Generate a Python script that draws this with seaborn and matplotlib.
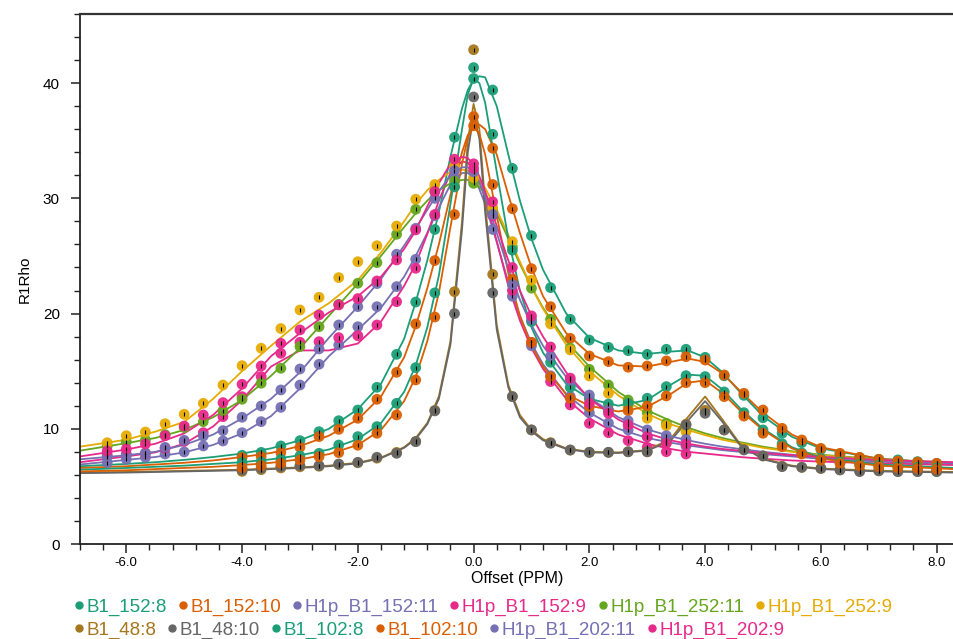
import numpy as np
import pandas as pd
import matplotlib
matplotlib.use("Agg")
import matplotlib.pyplot as plt
import seaborn as sns
from matplotlib.ticker import MultipleLocator, FormatStrFormatter
from matplotlib.lines import Line2D

# ---------------- data ----------------
series_labels = ["B1_152:8", "B1_152:10", "H1p_B1_152:11", "H1p_B1_152:9",
                 "H1p_B1_252:11", "H1p_B1_252:9", "B1_48:8", "B1_48:10",
                 "B1_102:8", "B1_102:10", "H1p_B1_202:11", "H1p_B1_202:9"]

series_colors = ["#1b9e77", "#d95f02", "#7570b3", "#e7298a", "#66a61e", "#e6ab02",
                 "#a6761d", "#666666", "#1b9e77", "#d95f02", "#7570b3", "#e7298a"]

# measured offsets (ppm)
h1p_offsets = [-6.33, -6.0, -5.67, -5.33, -5.0, -4.67, -4.33, -4.0, -3.67, -3.33,
               -3.0, -2.67, -2.33, -2.0, -1.67, -1.33, -1.0, -0.67, -0.33, 0.0,
               0.33, 0.67, 1.0, 1.33, 1.67, 2.0, 2.33, 2.67, 3.0, 3.33, 3.67]
b1_offsets = [-4.0, -3.67, -3.33, -3.0, -2.67, -2.33, -2.0, -1.67, -1.33, -1.0,
              -0.67, -0.33, 0.0, 0.33, 0.67, 1.0, 1.33, 1.67, 2.0, 2.33,
              2.67, 3.0, 3.33, 3.67, 4.0, 4.33, 4.67, 5.0, 5.33, 5.67,
              6.0, 6.33, 6.67, 7.0, 7.33, 7.67, 8.0]

# measured R1rho values
b1_152_8 = [7.7, 7.95, 8.51, 8.97, 9.75, 10.7, 11.63, 13.6, 16.46, 21.0,
            27.3, 35.3, 40.4, 39.4, 32.6, 26.76, 22.25, 19.5, 17.7, 17.07,
            16.78, 16.46, 16.9, 16.9, 16.2, 14.6, 12.9, 10.96, 9.61, 8.8,
            8.2, 7.8, 7.5, 7.35, 7.3, 7.15, 7.0]
b1_152_10 = [7.5, 7.58, 7.93, 8.39, 9.32, 9.95, 10.91, 12.56, 14.9, 19.1,
             24.6, 31.0, 36.3, 34.35, 29.1, 23.9, 20.6, 17.85, 16.32, 15.83,
             15.34, 15.45, 15.89, 16.26, 15.97, 14.67, 13.08, 11.63, 10.04, 9.03,
             8.3, 7.87, 7.52, 7.35, 7.2, 7.1, 7.0]
h1p_152_11 = [7.06, 7.35, 7.52, 7.81, 7.99, 8.51, 8.94, 9.66, 10.62, 11.86,
              13.8, 15.6, 17.27, 18.86, 20.6, 22.34, 24.71, 28.5, 31.8, 31.6,
              27.3, 21.5, 17.2, 14.6, 12.8, 11.4, 10.5, 9.9, 9.3, 8.9, 8.5]
h1p_152_9 = [7.73, 7.81, 7.87, 8.3, 8.9, 9.66, 11.05, 12.79, 14.53, 16.55,
             17.51, 17.56, 17.91, 18.08, 19.01, 21.03, 23.93, 28.6, 32.8, 33.0,
             28.5, 22.0, 17.5, 14.1, 12.07, 10.47, 9.66, 8.97, 8.39, 8.01, 7.81]
h1p_252_11 = [8.5, 8.88, 9.03, 9.49, 10.1, 10.62, 11.57, 12.56, 13.95, 15.25,
              17.13, 18.86, 20.8, 22.63, 24.42, 26.88, 29.05, 30.6, 31.5, 31.3,
              29.0, 25.8, 22.2, 19.5, 17.0, 15.16, 13.8, 12.5, 11.4, 10.47, 9.9]
h1p_252_9 = [8.79, 9.4, 9.72, 10.44, 11.26, 12.21, 13.8, 15.48, 16.99, 18.7,
             20.31, 21.41, 23.12, 24.5, 25.89, 27.6, 29.92, 31.2, 32.8, 31.8,
             29.2, 26.24, 22.9, 19.1, 16.84, 14.58, 13.08, 11.9, 10.91, 10.27, 9.75]
b1_48_8 = [6.3, 6.45, 6.6, 6.7, 6.75, 6.9, 7.05, 7.45, 7.95, 8.9,
           11.6, 21.9, 42.9, 23.4, 12.8, 9.9, 8.8, 8.15, 7.95, 7.95,
           8.0, 8.0, 8.8, 10.4, 11.6, 9.9, 8.2, 7.65, 6.75, 6.65,
           6.55, 6.45, 6.35, 6.35, 6.3, 6.3, 6.3]
b1_48_10 = [6.42, 6.57, 6.71, 6.8, 6.8, 6.94, 7.09, 7.53, 7.87, 8.88,
            11.55, 20.0, 38.8, 21.8, 12.79, 9.9, 8.74, 8.16, 7.96, 7.96,
            8.01, 8.01, 9.0, 10.33, 11.34, 9.9, 8.16, 7.64, 6.71, 6.66,
            6.57, 6.42, 6.28, 6.36, 6.28, 6.28, 6.28]
b1_102_8 = [7.06, 7.1, 7.35, 7.64, 7.87, 8.59, 9.32, 10.19, 12.21, 15.31,
            21.8, 31.0, 41.35, 35.56, 25.5, 19.3, 15.77, 13.6, 12.6, 12.15,
            12.2, 12.65, 13.66, 14.61, 14.53, 13.2, 11.4, 9.9, 8.7, 7.9,
            7.4, 7.1, 6.9, 6.8, 6.7, 6.65, 6.6]
b1_102_10 = [6.62, 6.8, 7.0, 7.29, 7.58, 7.93, 8.57, 9.61, 11.2, 14.24,
             19.7, 28.6, 37.1, 31.2, 23.0, 17.5, 14.53, 12.65, 11.92, 11.63,
             11.57, 11.98, 12.85, 14.0, 14.0, 12.79, 11.1, 9.61, 8.45, 7.81,
             7.3, 7.0, 6.8, 6.7, 6.6, 6.55, 6.5]
h1p_202_11 = [7.58, 7.72, 7.9, 8.39, 9.0, 9.37, 9.84, 11.0, 11.98, 13.37,
              15.19, 16.93, 19.01, 20.6, 22.6, 25.15, 27.4, 30.0, 32.4, 32.3,
              28.6, 22.5, 19.5, 16.3, 14.2, 12.93, 11.6, 10.7, 9.9, 9.4, 9.09]
h1p_202_9 = [8.07, 8.25, 8.68, 9.4, 10.24, 11.2, 12.27, 13.86, 15.45, 17.42,
             18.58, 19.88, 20.75, 21.3, 22.83, 24.65, 27.26, 30.6, 33.4, 32.6,
             29.7, 24.0, 19.8, 17.1, 14.4, 12.21, 11.34, 10.33, 9.32, 8.74, 8.65]

# fitted curves on a common offset grid
fit_offsets = [-6.8, -6.0, -5.5, -5.0, -4.5, -4.0, -3.5, -3.0, -2.5, -2.0,
               -1.6, -1.2, -1.0, -0.8, -0.6, -0.4, -0.2, -0.1, 0.0, 0.1,
               0.2, 0.4, 0.6, 0.8, 1.0, 1.2, 1.6, 2.0, 2.5, 3.0,
               3.4, 3.7, 4.0, 4.3, 4.6, 5.0, 5.5, 6.0, 7.0, 8.3]
fit_b1_152_8 = [6.75, 6.95, 7.1, 7.3, 7.55, 7.85, 8.3, 9.0, 10.0, 11.7,
                13.9, 17.8, 21.0, 24.6, 28.8, 33.6, 37.8, 39.4, 40.3, 40.6,
                40.5, 38.0, 33.8, 29.8, 26.5, 23.8, 20.0, 17.9, 16.8, 16.5,
                16.7, 16.8, 16.2, 14.9, 13.2, 11.1, 9.3, 8.3, 7.4, 6.95]
fit_b1_152_10 = [6.6, 6.75, 6.9, 7.05, 7.25, 7.55, 7.9, 8.5, 9.4, 10.8,
                 12.8, 16.2, 18.9, 22.2, 26.0, 30.3, 34.0, 35.5, 36.2, 36.4,
                 36.0, 33.8, 30.3, 27.0, 24.0, 21.5, 18.3, 16.5, 15.5, 15.4,
                 15.8, 16.1, 15.8, 14.8, 13.3, 11.4, 9.5, 8.4, 7.4, 6.95]
fit_h1p_152_11 = [6.9, 7.3, 7.55, 7.95, 8.6, 9.6, 11.1, 13.5, 16.3, 18.6,
                  20.5, 23.2, 25.0, 27.0, 29.2, 31.2, 32.2, 32.2, 31.8, 30.8,
                  29.5, 26.2, 22.7, 19.8, 17.4, 15.6, 13.0, 11.4, 10.0, 9.2,
                  8.8, 8.55, 8.35, 8.15, 8.0, 7.8, 7.6, 7.4, 7.15, 6.9]
fit_h1p_152_9 = [7.1, 7.6, 7.95, 8.7, 10.2, 12.5, 15.4, 16.8, 16.8, 17.4,
                 19.3, 22.4, 24.3, 26.9, 29.8, 32.2, 33.2, 33.1, 32.5, 31.4,
                 30.0, 26.3, 22.4, 19.4, 17.0, 15.2, 12.6, 10.9, 9.5, 8.7,
                 8.25, 8.0, 7.85, 7.7, 7.55, 7.4, 7.25, 7.15, 7.0, 6.85]
fit_h1p_252_11 = [8.1, 8.75, 9.2, 9.9, 11.0, 12.5, 14.6, 17.0, 19.8, 22.6,
                  25.0, 27.5, 28.7, 29.8, 30.7, 31.3, 31.6, 31.6, 31.4, 31.0,
                  30.4, 28.7, 26.5, 24.3, 22.3, 20.5, 17.6, 15.4, 13.2, 11.6,
                  10.7, 10.1, 9.6, 9.2, 8.85, 8.45, 8.05, 7.75, 7.35, 7.05]
fit_h1p_252_9 = [8.45, 9.05, 9.75, 10.6, 12.6, 15.0, 17.2, 19.3, 20.9, 22.9,
                 25.3, 28.0, 29.5, 30.7, 31.6, 32.3, 32.5, 32.4, 32.1, 31.6,
                 30.9, 29.0, 26.8, 24.5, 22.3, 20.4, 17.3, 15.0, 12.9, 11.3,
                 10.4, 9.9, 9.45, 9.05, 8.75, 8.35, 8.0, 7.7, 7.3, 7.0]
fit_b1_48_8 = [6.2, 6.25, 6.3, 6.35, 6.4, 6.45, 6.55, 6.65, 6.8, 7.05,
               7.5, 8.4, 9.2, 10.5, 12.8, 17.6, 28.0, 35.0, 38.2, 36.0,
               29.5, 19.0, 13.8, 11.2, 9.9, 9.1, 8.3, 8.0, 7.95, 8.15,
               9.1, 11.0, 12.8, 10.8, 8.7, 7.4, 6.8, 6.55, 6.35, 6.25]
fit_b1_48_10 = [6.15, 6.2, 6.25, 6.3, 6.35, 6.4, 6.5, 6.6, 6.75, 7.0,
                7.45, 8.35, 9.1, 10.4, 12.6, 17.3, 27.3, 34.0, 37.2, 35.2,
                28.8, 18.6, 13.6, 11.0, 9.8, 9.0, 8.25, 7.95, 7.9, 8.1,
                8.95, 10.7, 12.4, 10.6, 8.6, 7.35, 6.75, 6.5, 6.3, 6.2]
fit_b1_102_8 = [6.45, 6.6, 6.7, 6.8, 6.95, 7.1, 7.35, 7.7, 8.2, 9.1,
                10.5, 13.2, 15.5, 18.8, 23.3, 29.5, 36.0, 39.0, 40.4, 40.0,
                38.3, 32.3, 26.5, 22.0, 18.8, 16.6, 13.9, 12.6, 12.0, 12.5,
                13.8, 14.7, 14.6, 13.4, 11.8, 10.0, 8.4, 7.5, 6.9, 6.6]
fit_b1_102_10 = [6.3, 6.4, 6.5, 6.6, 6.7, 6.85, 7.05, 7.35, 7.8, 8.6,
                 9.9, 12.4, 14.5, 17.6, 21.8, 27.5, 33.0, 35.3, 36.2, 35.6,
                 33.8, 28.5, 23.5, 19.8, 17.2, 15.4, 13.0, 12.0, 11.5, 11.9,
                 13.0, 14.0, 14.2, 13.1, 11.6, 9.9, 8.3, 7.4, 6.8, 6.5]
fit_h1p_202_11 = [7.35, 7.7, 8.0, 8.6, 9.5, 10.9, 12.6, 14.9, 17.9, 20.6,
                  23.0, 25.9, 27.4, 29.0, 30.6, 32.0, 32.7, 32.7, 32.3, 31.4,
                  30.2, 27.0, 23.9, 21.2, 19.0, 17.2, 14.5, 12.7, 11.0, 9.95,
                  9.35, 9.0, 8.7, 8.45, 8.25, 8.0, 7.75, 7.55, 7.25, 7.0]
fit_h1p_202_9 = [7.6, 8.2, 8.7, 9.6, 11.2, 13.5, 16.3, 18.3, 20.1, 21.5,
                 23.2, 25.6, 27.2, 29.3, 31.3, 33.0, 33.6, 33.5, 32.9, 31.9,
                 30.6, 27.6, 24.6, 22.0, 19.8, 18.0, 14.9, 12.6, 10.8, 9.6,
                 9.0, 8.7, 8.45, 8.25, 8.1, 7.9, 7.7, 7.55, 7.3, 7.1]

y_ticks = [0, 10, 20, 30, 40]
x_ticks = [-6.0, -4.0, -2.0, 0.0, 2.0, 4.0, 6.0, 8.0]

# ---------------- assemble ----------------
point_sets = [(b1_offsets, b1_152_8), (b1_offsets, b1_152_10), (h1p_offsets, h1p_152_11),
              (h1p_offsets, h1p_152_9), (h1p_offsets, h1p_252_11), (h1p_offsets, h1p_252_9),
              (b1_offsets, b1_48_8), (b1_offsets, b1_48_10), (b1_offsets, b1_102_8),
              (b1_offsets, b1_102_10), (h1p_offsets, h1p_202_11), (h1p_offsets, h1p_202_9)]
fit_sets = [fit_b1_152_8, fit_b1_152_10, fit_h1p_152_11, fit_h1p_152_9, fit_h1p_252_11,
            fit_h1p_252_9, fit_b1_48_8, fit_b1_48_10, fit_b1_102_8, fit_b1_102_10,
            fit_h1p_202_11, fit_h1p_202_9]

pts = pd.concat([pd.DataFrame({"series": lab, "offset": xs, "r1rho": ys})
                 for lab, (xs, ys) in zip(series_labels, point_sets)], ignore_index=True)
fits = pd.concat([pd.DataFrame({"series": lab, "offset": fit_offsets, "r1rho": ys})
                  for lab, ys in zip(series_labels, fit_sets)], ignore_index=True)
palette = dict(zip(series_labels, series_colors))

# ---------------- draw ----------------
plt.rcParams["font.family"] = ["Liberation Sans", "DejaVu Sans"]
plt.rcParams["axes.unicode_minus"] = False

fig = plt.figure(figsize=(9.54, 6.39), dpi=100)
ax = fig.add_axes([80 / 954, 1 - 544 / 639, (954 - 80) / 954, (544 - 14) / 639])

sns.lineplot(data=fits, x="offset", y="r1rho", hue="series", hue_order=series_labels,
             palette=palette, estimator=None, sort=True, linewidth=1.3,
             legend=False, ax=ax, zorder=2)
sns.scatterplot(data=pts, x="offset", y="r1rho", hue="series", hue_order=series_labels,
                palette=palette, s=60, linewidth=0, alpha=0.95, legend=False,
                ax=ax, zorder=3)
ax.scatter(pts["offset"], pts["r1rho"], marker="|", s=8, c="black",
           linewidths=0.8, zorder=4)

ax.set_xlim(-6.8, 8.3)
ax.set_ylim(0, 46)
ax.set_xticks(x_ticks)
ax.set_yticks(y_ticks)
ax.xaxis.set_major_formatter(FormatStrFormatter("%.1f"))
ax.xaxis.set_minor_locator(MultipleLocator(0.4))
ax.yaxis.set_minor_locator(MultipleLocator(2))
ax.tick_params(axis="both", which="major", direction="out", length=6.5, width=1.1,
               color="#222222")
ax.tick_params(axis="both", which="minor", direction="out", length=4, width=1.0,
               color="#222222")
ax.tick_params(axis="x", labelsize=9.5, pad=3)
ax.tick_params(axis="y", labelsize=11, pad=8)

for side in ["left", "bottom"]:
    ax.spines[side].set_linewidth(1.3)
    ax.spines[side].set_color("#222222")
ax.spines["top"].set_linewidth(1.6)
ax.spines["top"].set_color("#333333")
ax.spines["right"].set_visible(False)

ax.set_xlabel("Offset (PPM)", fontsize=11.5, labelpad=1)
ax.set_ylabel("R1Rho", fontsize=11, labelpad=8)

handles = [Line2D([], [], marker="o", linestyle="", markersize=5,
                  markerfacecolor=c, markeredgecolor=c) for c in series_colors]
legend_kw = dict(loc="center left", ncol=6, frameon=False, fontsize=13.5,
                 handlelength=0.5, handletextpad=0.15, columnspacing=0.6,
                 borderpad=0, borderaxespad=0)
leg1 = fig.legend(handles[:6], series_labels[:6], bbox_to_anchor=(0.078, 0.050),
                  **legend_kw)
leg2 = fig.legend(handles[6:], series_labels[6:], bbox_to_anchor=(0.078, 0.014),
                  **legend_kw)
for leg, cols in [(leg1, series_colors[:6]), (leg2, series_colors[6:])]:
    for t, c in zip(leg.get_texts(), cols):
        t.set_color(c)

fig.savefig("out.png", dpi=100)
